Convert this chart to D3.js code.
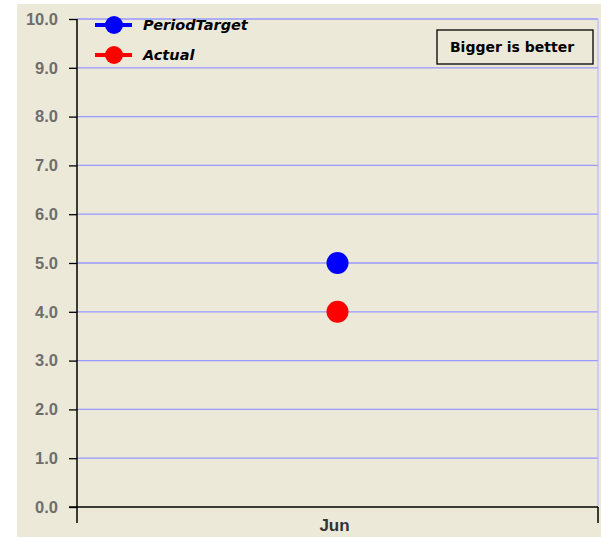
<!DOCTYPE html>
<html>
<head>
<meta charset="utf-8">
<script src="https://cdn.jsdelivr.net/npm/d3@7"></script>
<style>
  html, body { margin: 0; padding: 0; background: #fff; }
  svg { display: block; }
</style>
</head>
<body>
<svg id="chart" width="601" height="537"></svg>
<script>
// Monthly KPI: target versus actual
const categories = ["Jun"];
const periodTarget = [5.0];
const actual = [4.0];
const yTicks = [0, 1, 2, 3, 4, 5, 6, 7, 8, 9, 10];
const seriesNames = ["PeriodTarget", "Actual"];
const seriesColors = ["#0000ff", "#ff0000"];
const noteText = "Bigger is better";

const svg = d3.select("#chart");
const W = 601, H = 537;
const m = { left: 77, right: 598, top: 19, bottom: 507 };

// panel background
svg.append("rect").attr("x", 17).attr("y", 4).attr("width", W - 17).attr("height", H - 4)
  .attr("fill", "#ece9d8");

const y = d3.scaleLinear().domain([0, 10]).range([m.bottom, m.top]);
const x = d3.scalePoint().domain(categories).range([m.left, m.right]).padding(0.5);

// horizontal grid
svg.append("g").selectAll("line").data(yTicks.filter(d => d > 0)).join("line")
  .attr("x1", m.left).attr("x2", m.right)
  .attr("y1", d => y(d)).attr("y2", d => y(d))
  .attr("stroke", "#9999ff").attr("stroke-width", 1.3);
// right border of plot
svg.append("line").attr("x1", m.right).attr("x2", m.right)
  .attr("y1", m.top).attr("y2", m.bottom)
  .attr("stroke", "#b0b0ff").attr("stroke-width", 1);

// y axis
const yAxis = d3.axisLeft(y).tickValues(yTicks).tickFormat(d3.format(".1f"))
  .tickSize(8).tickPadding(11);
const gy = svg.append("g").attr("transform", `translate(${m.left},0)`).call(yAxis);
gy.select(".domain").attr("stroke", "#000").attr("stroke-width", 1.5)
  .attr("d", `M0,${m.top}V${m.bottom + 16}`);
gy.selectAll(".tick line").attr("stroke", "#000").attr("stroke-width", 1.3);
gy.selectAll(".tick text")
  .attr("fill", "#6e6e6e").attr("font-family", "Liberation Sans, Arial, sans-serif")
  .attr("font-size", 16.5).attr("font-weight", "bold");

// x axis
svg.append("line").attr("x1", m.left - 8).attr("x2", m.right)
  .attr("y1", m.bottom).attr("y2", m.bottom)
  .attr("stroke", "#000").attr("stroke-width", 1.5);
svg.append("line").attr("x1", m.right).attr("x2", m.right)
  .attr("y1", m.bottom).attr("y2", m.bottom + 16)
  .attr("stroke", "#000").attr("stroke-width", 1.5);
svg.append("g").selectAll("text").data(categories).join("text")
  .attr("x", d => x(d) - 3).attr("y", m.bottom + 24)
  .attr("text-anchor", "middle")
  .attr("fill", "#333").attr("font-family", "Liberation Sans, Arial, sans-serif")
  .attr("font-size", 17).attr("font-weight", "bold")
  .text(d => d);

// points
const series = [periodTarget, actual];
series.forEach((vals, i) => {
  svg.append("g").selectAll("circle").data(vals).join("circle")
    .attr("cx", (d, j) => x(categories[j]))
    .attr("cy", d => y(d))
    .attr("r", 11)
    .attr("fill", seriesColors[i]);
});

// legend
const lg = svg.append("g");
seriesNames.forEach((name, i) => {
  const ly = 25 + i * 30;
  lg.append("line").attr("x1", 95).attr("x2", 132).attr("y1", ly).attr("y2", ly)
    .attr("stroke", seriesColors[i]).attr("stroke-width", 4);
  lg.append("circle").attr("cx", 114).attr("cy", ly).attr("r", 9).attr("fill", seriesColors[i]);
  lg.append("text").attr("x", 143).attr("y", ly + 5)
    .attr("font-family", "DejaVu Sans, sans-serif")
    .attr("font-size", 14.5).attr("font-weight", "bold").attr("font-style", "italic")
    .attr("fill", "#000").text(name);
});

// note box
const note = svg.append("g");
note.append("rect").attr("x", 437).attr("y", 30).attr("width", 156).attr("height", 34)
  .attr("fill", "none").attr("stroke", "#000").attr("stroke-width", 1.3);
note.append("text").attr("x", 512).attr("y", 52).attr("text-anchor", "middle")
  .attr("font-family", "DejaVu Sans, sans-serif")
  .attr("font-size", 14).attr("font-weight", "bold").attr("fill", "#000")
  .text(noteText);
</script>
</body>
</html>
